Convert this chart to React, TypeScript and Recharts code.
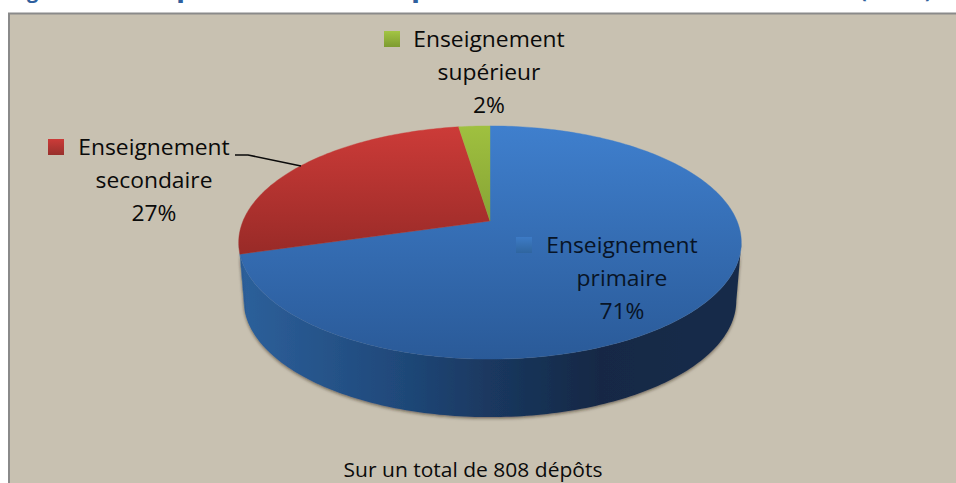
import React from 'react';
import { PieChart, Pie, Cell } from 'recharts';

const categories = ['Enseignement primaire', 'Enseignement secondaire', 'Enseignement supérieur'];
const shares = [70.5, 27.1, 2.4];
const labelLines = [
  ['Enseignement', 'primaire', '71%'],
  ['Enseignement', 'secondaire', '27%'],
  ['Enseignement', 'supérieur', '2%'],
];
const footnote = 'Sur un total de 808 dépôts';

const data = categories.map((name, i) => ({ name, value: shares[i] }));
const FONT = '"Open Sans", sans-serif';
const TILT = 0.456;
const PERSPECTIVE = 0.1845;
const DEPTH = 58;
const topFills = ['url(#topBlue)', 'url(#topRed)', 'url(#topGreen)'];
const swatchFills = ['url(#swBlue)', 'url(#swRed)', 'url(#swGreen)'];
// Text block centres, first baseline and swatch position for each slice label
const labelAnchors = [
  { cx: 622, y: 253, sx: 516, sy: 237, color: '#081426' },
  { cx: 154, y: 155, sx: 48, sy: 139, color: '#0a0a0a' },
  { cx: 489, y: 47, sx: 384, sy: 31, color: '#0a0a0a' },
];

const project = (cx: number, cy: number, r: number, deg: number) => {
  const t = (deg * Math.PI) / 180;
  const X = Math.cos(t);
  const Y = Math.sin(t);
  const d = 1 + PERSPECTIVE * Y;
  return { x: cx + (r * X) / d, y: cy - (r * TILT * Y) / d, Y };
};

const SliceShape = (props: any) => {
  const { cx, cy, outerRadius, startAngle, endAngle, index } = props;
  const steps = Math.max(4, Math.ceil(Math.abs(endAngle - startAngle)));
  const rim: { x: number; y: number; Y: number }[] = [];
  for (let i = 0; i <= steps; i++) {
    rim.push(project(cx, cy, outerRadius, startAngle + ((endAngle - startAngle) * i) / steps));
  }
  const top = `M${cx},${cy}` + rim.map((p) => `L${p.x.toFixed(2)},${p.y.toFixed(2)}`).join('') + 'Z';
  const front = rim.filter((p) => p.Y <= -PERSPECTIVE);
  let wall = '';
  if (front.length > 1) {
    const squeeze = (x: number) => cx + (x - cx) * 0.98;
    const upper = front.map((p) => `${p.x.toFixed(2)},${p.y.toFixed(2)}`);
    const lower = [...front].reverse().map((p) => `${squeeze(p.x).toFixed(2)},${(p.y + DEPTH).toFixed(2)}`);
    wall = 'M' + upper.join('L') + 'L' + lower.join('L') + 'Z';
  }
  return (
    <g>
      {wall && <path d={wall} fill="url(#wallBlue)" filter="url(#rimShadow)" />}
      <path d={top} fill={topFills[index]} stroke={topFills[index]} strokeWidth={0.4} />
    </g>
  );
};

const SliceLabel = (props: any) => {
  const i = props.index;
  const a = labelAnchors[i];
  return (
    <g>
      <rect x={a.sx} y={a.sy} width={16} height={16} fill={swatchFills[i]} />
      {labelLines[i].map((line, k) => (
        <text
          key={k}
          transform={`translate(${a.cx},${a.y + k * 33.2}) scale(1.015,1)`}
          textAnchor="middle"
          fontFamily={FONT}
          fontSize={22.5}
          fill={a.color}
        >
          {line}
        </text>
      ))}
      {i === 1 && <polyline points="235,155 248,155 301,166" fill="none" stroke="#0a0a0a" strokeWidth={1.6} />}
    </g>
  );
};

const grad = (id: string, c1: string, c2: string, y1: number, y2: number) => (
  <linearGradient id={id} gradientUnits="userSpaceOnUse" x1="0" x2="0" y1={y1} y2={y2}>
    <stop offset="0" stopColor={c1} />
    <stop offset="1" stopColor={c2} />
  </linearGradient>
);

export default function App() {
  return (
    <div style={{ position: 'absolute', left: 0, top: 0, width: 956, height: 483, background: '#fff', overflow: 'hidden' }}>
      <svg width={956} height={483} style={{ position: 'absolute', left: 0, top: 0 }}>
        <rect x={9} y={13.5} width={960} height={480} fill="#c8c1b1" stroke="#8a8a8a" strokeWidth={2} />
        <g fontFamily={FONT} fontWeight={700} fontSize={20} fill="#2f5f9e">
          <text x={10} y={-2}>Figure</text>
          <text x={176} y={-2} textLength={300} lengthAdjust="spacingAndGlyphs">partition des dépôts</text>
          <text x={860} y={-2}>(</text>
          <text x={925} y={-2}>)</text>
        </g>
        <text transform="translate(473,477) scale(1.05,1)" textAnchor="middle" fontFamily={FONT} fontSize={20} fill="#0a0a0a">
          {footnote}
        </text>
      </svg>
      <div style={{ position: 'absolute', left: 0, top: 0 }}>
        <PieChart width={956} height={483} margin={{ top: 0, right: 0, bottom: 0, left: 0 }}>
          <defs>
            {grad('topBlue', '#3f7fcd', '#2a5a98', 127, 360)}
            {grad('topRed', '#cc3b38', '#982a27', 127, 256)}
            {grad('topGreen', '#9fc03f', '#86a335', 127, 222)}
            {grad('swBlue', '#3d7bc6', '#2f659f', 237, 253)}
            {grad('swRed', '#cc3b38', '#98302c', 139, 155)}
            {grad('swGreen', '#a3c544', '#7d9b30', 31, 47)}
            <linearGradient id="wallBlue" gradientUnits="userSpaceOnUse" x1="239" x2="741" y1="0" y2="0">
              <stop offset="0" stopColor="#2d609b" />
              <stop offset="0.3" stopColor="#204a7c" />
              <stop offset="0.5" stopColor="#1a3860" />
              <stop offset="0.72" stopColor="#152845" />
              <stop offset="1" stopColor="#172c4a" />
            </linearGradient>
            <filter id="rimShadow" x="-5%" y="-5%" width="110%" height="115%">
              <feDropShadow dx="0" dy="1.5" stdDeviation="1.6" floodColor="#2a2414" floodOpacity="0.55" />
            </filter>
          </defs>
          <Pie
            data={data}
            dataKey="value"
            nameKey="name"
            cx={490}
            cy={221}
            outerRadius={247}
            innerRadius={0}
            startAngle={90}
            endAngle={-270}
            stroke="none"
            isAnimationActive={false}
            labelLine={false}
            label={SliceLabel}
            shape={SliceShape}
          >
            {data.map((d) => (
              <Cell key={d.name} />
            ))}
          </Pie>
        </PieChart>
      </div>
    </div>
  );
}
